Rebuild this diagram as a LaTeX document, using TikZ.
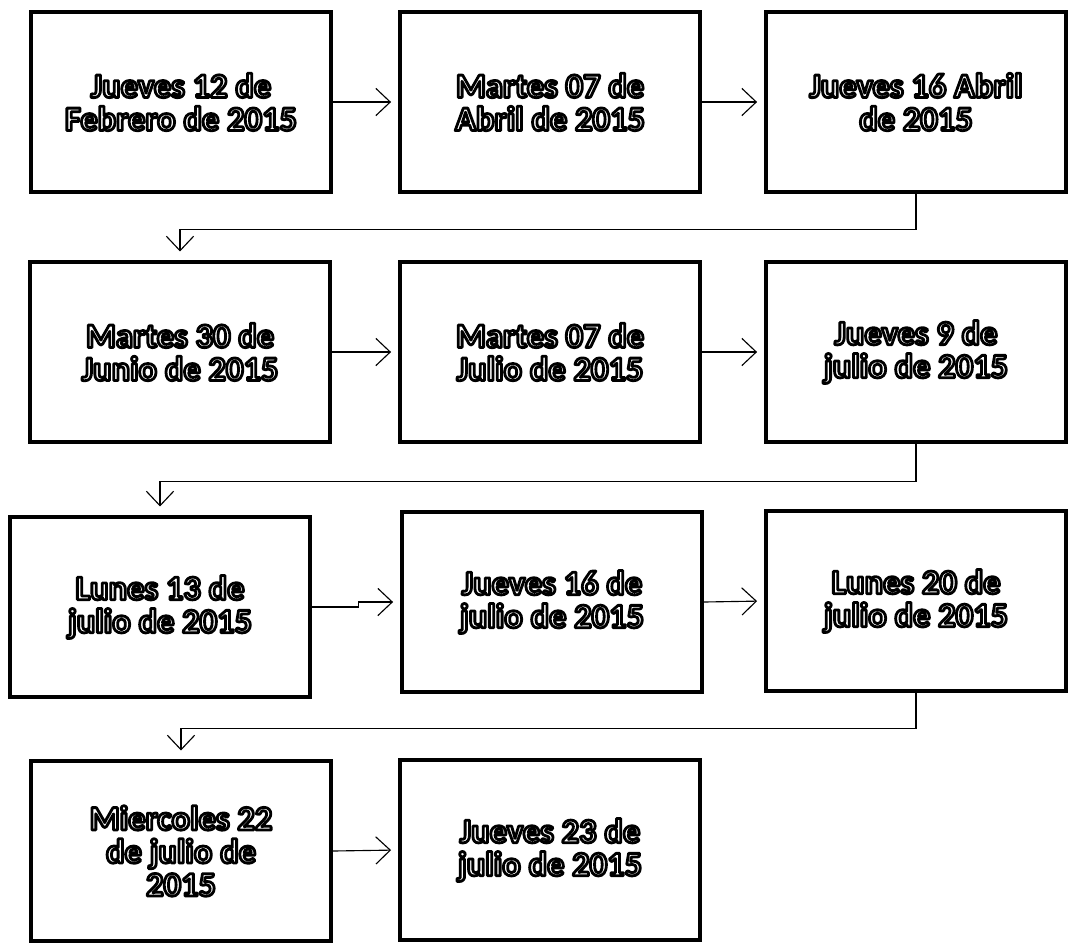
\documentclass[tikz,border=0pt]{standalone}
\usepackage{fontspec}
\newfontfamily\crfont{Carlito}
\usepackage{xcolor}
\usepackage{tikz}
\usetikzlibrary{arrows.meta,positioning}
\definecolor{crInk}{HTML}{000000}
% hollow lettering: white fill, black stroke
\newcommand\crHollowOn{\special{pdf:literal direct 2 Tr 2 w 1 j 1 g 0 G}}
\newcommand\crHollowOff{\special{pdf:literal direct 0 Tr 0 j 0.4 w 0 g 0 G}}
\tikzset{
  cr diagram/.style={x=0.025cm, y=-0.025cm, line cap=round},
  cr box/.style={draw=crInk, fill=white, line width=2.4pt,
    minimum width=7.5cm, minimum height=4.5cm, align=center, inner sep=0pt,
    font=\crfont\bfseries\fontsize{24.5}{23.5}\selectfont,
    execute at begin node=\crHollowOn, execute at end node=\crHollowOff},
  cr arrow/.style={-{Straight Barb[length=3.6mm,width=6.8mm]}, draw=crInk,
    line width=0.8pt, shorten >=1.8mm},
  cr link/.style={cr arrow, shorten >=2.2mm}
}
\begin{document}
\begin{tikzpicture}[cr diagram]
\useasboundingbox (0,0) rectangle (1070,942);
% first row
\node[cr box] (feb12) at (181,102) {Jueves 12 de\\Febrero de 2015};
\node[cr box] (abr07) at (550,102) {Martes 07 de\\Abril de 2015};
\node[cr box] (abr16) at (916,102) {Jueves 16 Abril\\de 2015};
% second row
\node[cr box] (jun30) at (180,352) {Martes 30 de\\Junio de 2015};
\node[cr box] (jul07) at (550,352) {Martes 07 de\\Julio de 2015};
\node[cr box] (jul09) at (916,352) {Jueves 9 de\\julio de 2015};
% third row
\node[cr box] (jul13) at (160,607) {Lunes 13 de\\julio de 2015};
\node[cr box] (jul16) at (552,602) {Jueves 16 de\\julio de 2015};
\node[cr box] (jul20) at (916,601) {Lunes 20 de\\julio de 2015};
% last row
\node[cr box] (jul22) at (181,851) {Miercoles 22\\de julio de\\2015};
\node[cr box] (jul23) at (550,850) {Jueves 23 de\\julio de 2015};

\draw[cr arrow] (feb12.east) -- (abr07.west);
\draw[cr arrow] (abr07.east) -- (abr16.west);
\draw[cr link] (abr16.south) -- ++(0,36) -| (jun30.north);
\draw[cr arrow] (jun30.east) -- (jul07.west);
\draw[cr arrow] (jul07.east) -- (jul09.west);
\draw[cr link] (jul09.south) -- ++(0,38) -| (jul13.north);
\draw[cr arrow] (jul13.east) -- ++(47,0) |- (jul16.west);
\draw[cr arrow] (jul16.east) -- (jul20.west);
\draw[cr link] (jul20.south) -- ++(0,36) -| (jul22.north);
\draw[cr arrow] (jul22.east) -- (jul23.west);
\end{tikzpicture}
\end{document}
